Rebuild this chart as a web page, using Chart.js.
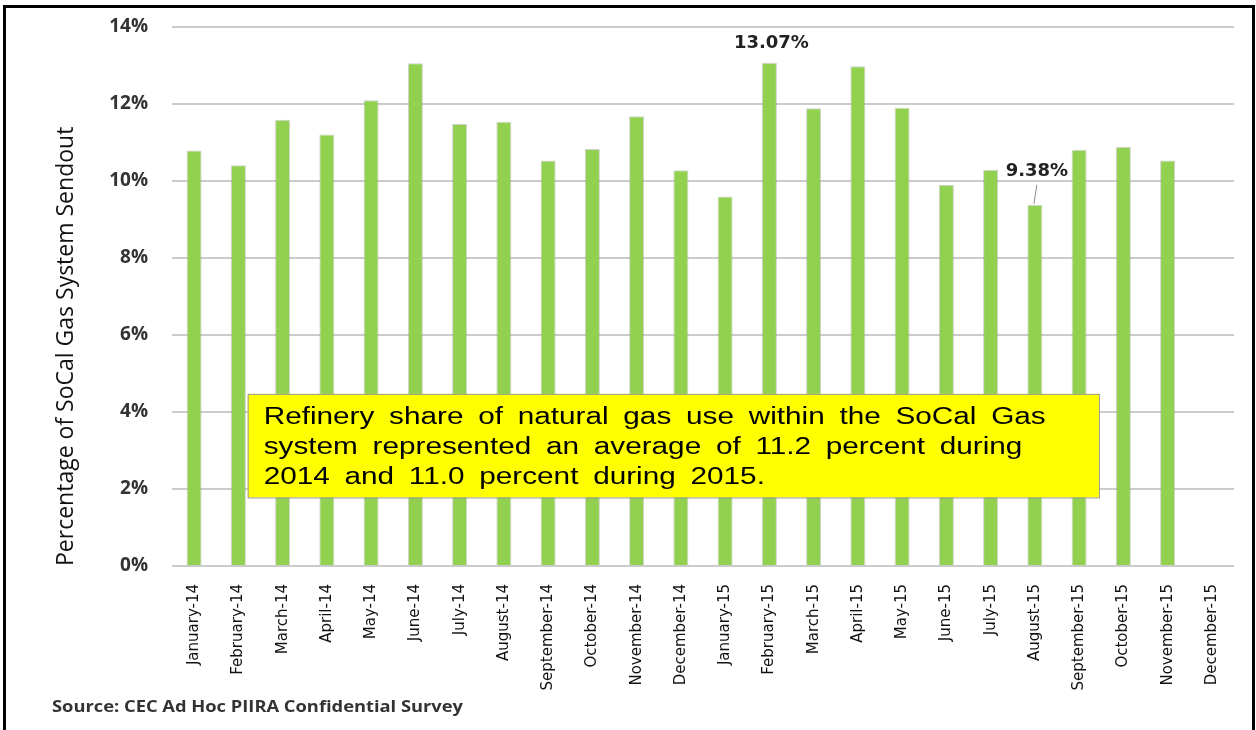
<!DOCTYPE html>
<html>
<head>
<meta charset="utf-8">
<script src="https://cdn.jsdelivr.net/npm/chart.js@4.4.1/dist/chart.umd.min.js"></script>
<style>
  html, body { margin: 0; padding: 0; background: #fff; }
  #wrap { width: 1256px; height: 730px; }
</style>
</head>
<body>
<div id="wrap"><canvas id="chart" width="1256" height="730"></canvas></div>
<script>
// --- data ---
const months = ['January-14', 'February-14', 'March-14', 'April-14', 'May-14', 'June-14',
  'July-14', 'August-14', 'September-14', 'October-14', 'November-14', 'December-14',
  'January-15', 'February-15', 'March-15', 'April-15', 'May-15', 'June-15',
  'July-15', 'August-15', 'September-15', 'October-15', 'November-15', 'December-15'];
const shares = [10.79, 10.41, 11.59, 11.21, 12.10, 13.06, 11.48, 11.54, 10.53, 10.83, 11.68, 10.28,
  9.60, 13.07, 11.89, 12.98, 11.90, 9.90, 10.29, 9.38, 10.81, 10.89, 10.53, null];
const yMax = 14;
const yStep = 2;
const calloutMonths = ['February-15', 'August-15'];
const yTitle = 'Percentage of SoCal Gas System Sendout';
const sourceNote = 'Source: CEC Ad Hoc PIIRA Confidential Survey';
const noteLines = [
  'Refinery share of natural gas use within the SoCal Gas',
  'system represented an average of 11.2 percent during',
  '2014 and 11.0 percent during 2015.'
];

// --- extra drawing: callouts, note box, source line, frame ---
const extras = {
  id: 'extras',
  afterDatasetsDraw(chart) {
    const ctx = chart.ctx;
    const meta = chart.getDatasetMeta(0);
    const xs = chart.scales.x, ys = chart.scales.y;

    // value callouts
    ctx.save();
    ctx.font = 'bold 18px "DejaVu Sans"';
    ctx.fillStyle = '#222';
    ctx.textAlign = 'center';
    ctx.textBaseline = 'middle';
    calloutMonths.forEach((m, k) => {
      const i = months.indexOf(m);
      const bar = meta.data[i];
      const lift = k === 0 ? 19 : 34;
      const ly = bar.y - lift;
      ctx.fillText(shares[i].toFixed(2) + '%', bar.x + 2, ly);
      if (k === 1) {
        ctx.strokeStyle = '#8a8a8a';
        ctx.lineWidth = 1;
        ctx.beginPath();
        ctx.moveTo(bar.x - 1, bar.y - 1);
        ctx.lineTo(bar.x + 2, ly + 14);
        ctx.stroke();
      }
    });
    ctx.restore();

    // yellow note box
    const bx0 = xs.getPixelForValue(1.21), bx1 = xs.getPixelForValue(20.45);
    const by0 = ys.getPixelForValue(4.47), by1 = ys.getPixelForValue(1.78);
    ctx.save();
    ctx.fillStyle = '#ffff00';
    ctx.fillRect(bx0, by0, bx1 - bx0, by1 - by0);
    ctx.strokeStyle = '#9a9a9a';
    ctx.lineWidth = 1;
    ctx.strokeRect(bx0 + 0.5, by0 + 0.5, bx1 - bx0, by1 - by0);
    ctx.font = '23px "Liberation Sans"';
    ctx.wordSpacing = '5px';
    ctx.fillStyle = '#000';
    ctx.textBaseline = 'alphabetic';
    const stretch = 782 / ctx.measureText(noteLines[0]).width;
    noteLines.forEach((line, n) => {
      ctx.save();
      ctx.translate(bx0 + 16, by0 + 30 + n * 30);
      ctx.scale(stretch, 1);
      ctx.fillText(line, 0, 0);
      ctx.restore();
    });
    ctx.restore();
  },
  afterDraw(chart) {
    const ctx = chart.ctx;
    ctx.save();
    // source line
    ctx.font = 'bold 16px "Open Sans"';
    ctx.fillStyle = '#333';
    ctx.textBaseline = 'middle';
    const sx = 411 / ctx.measureText(sourceNote).width;
    ctx.translate(52, 707);
    ctx.scale(sx, 1);
    ctx.fillText(sourceNote, 0, 0);
    ctx.restore();

    // black frame
    ctx.save();
    ctx.strokeStyle = '#000';
    ctx.lineWidth = 3;
    ctx.beginPath();
    ctx.moveTo(4.5, 745);
    ctx.lineTo(4.5, 6.5);
    ctx.lineTo(1253.5, 6.5);
    ctx.lineTo(1253.5, 745);
    ctx.stroke();
    ctx.restore();
  }
};

const ctx = document.getElementById('chart').getContext('2d');
new Chart(ctx, {
  type: 'bar',
  data: {
    labels: months,
    datasets: [{
      data: shares,
      backgroundColor: '#92d050',
      borderColor: 'rgba(150,150,150,0.45)',
      borderWidth: 1,
      borderSkipped: 'bottom',
      barPercentage: 0.34,
      categoryPercentage: 1
    }]
  },
  options: {
    responsive: false,
    animation: false,
    layout: { padding: { left: 0, top: 27, right: 22, bottom: 0 } },
    plugins: { legend: { display: false }, tooltip: { enabled: false } },
    scales: {
      x: {
        grid: { display: false },
        border: { display: false },
        ticks: {
          autoSkip: false,
          minRotation: 90,
          maxRotation: 90,
          padding: 10,
          color: '#111',
          font: { family: 'DejaVu Sans', size: 15 }
        },
        afterFit(scale) { scale.height = 164; }
      },
      y: {
        min: 0,
        max: yMax,
        grid: {
          color: '#cbcbcb',
          lineWidth: 2,
          drawTicks: true,
          tickLength: 22,
          tickColor: 'rgba(0,0,0,0)'
        },
        border: { display: false },
        ticks: {
          stepSize: yStep,
          padding: 2,
          color: '#333',
          font: { family: 'Open Sans', size: 19, weight: 'bold' },
          callback: v => v + '%'
        },
        title: {
          display: true,
          text: yTitle,
          align: 'start',
          color: '#111',
          font: { family: 'Open Sans', size: 23 },
          padding: { top: 53, bottom: 0 }
        },
        afterFit(scale) { scale.width = 172; }
      }
    }
  },
  plugins: [extras]
});
</script>
</body>
</html>
